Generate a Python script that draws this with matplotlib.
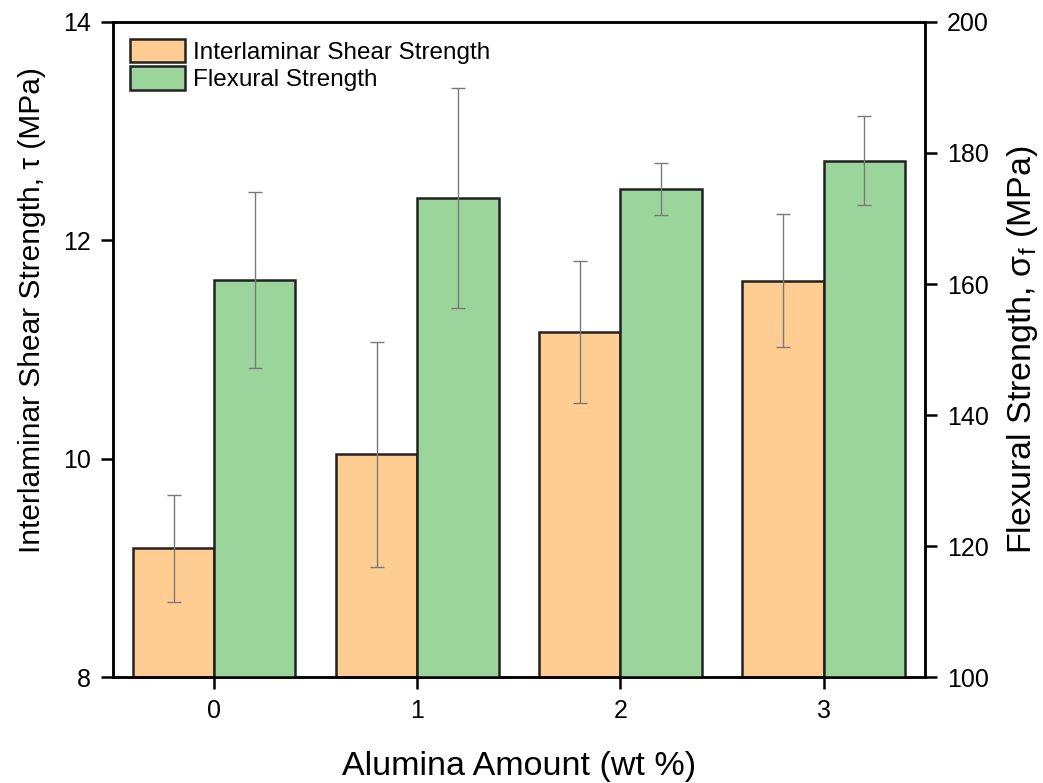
import numpy as np
import matplotlib.pyplot as plt

plt.rcParams['font.family'] = ['Liberation Sans', 'DejaVu Sans']
plt.rcParams['mathtext.fontset'] = 'custom'
plt.rcParams['mathtext.rm'] = 'Liberation Sans'
plt.rcParams['mathtext.it'] = 'Liberation Sans'

alumina = [0, 1, 2, 3]
ilss = [9.18, 10.04, 11.16, 11.63]
ilss_err = [0.49, 1.03, 0.65, 0.61]
flex = [160.6, 173.1, 174.5, 178.8]
flex_err = [13.4, 16.8, 3.9, 6.8]

x = np.array(alumina)
w = 0.4

fig = plt.figure(figsize=(10.43, 7.83), dpi=100)
ax1 = fig.add_axes([0.108, 0.135, 0.779, 0.837])
ax2 = ax1.twinx()

eb = dict(ecolor='#7a7a7a', elinewidth=1, capsize=4.7, capthick=1)
b1 = ax1.bar(x - w / 2, ilss, w, yerr=ilss_err, color='#FFCC91', edgecolor='#222222',
             linewidth=1.8, error_kw=eb, label='Interlaminar Shear Strength')
b2 = ax2.bar(x + w / 2, flex, w, yerr=flex_err, color='#9BD59B', edgecolor='#222222',
             linewidth=1.8, error_kw=eb, label='Flexural Strength')

ax1.set_xlim(-0.5, 3.5)
ax1.set_ylim(8, 14)
ax2.set_ylim(100, 200)
ax1.set_xticks(alumina)
ax1.set_yticks([8, 10, 12, 14])
ax2.set_yticks(np.arange(100, 201, 20))

for a in (ax1, ax2):
    a.tick_params(direction='out', length=8.5, width=1.8, labelsize=18, pad=7)
    for s in a.spines.values():
        s.set_linewidth(1.8)

ax1.set_xlabel('Alumina Amount (wt %)', fontsize=24.5, labelpad=20)
ax1.set_ylabel('Interlaminar Shear Strength, τ (MPa)', fontsize=21.5)
ax1.yaxis.set_label_coords(-0.082, 0.56)
ax2.set_ylabel(r'Flexural Strength, σ$_\mathrm{f}$ (MPa)', fontsize=24.5, labelpad=12)

ax1.legend([b1, b2], ['Interlaminar Shear Strength', 'Flexural Strength'],
           loc='upper left', frameon=False, fontsize=17.5, handlelength=2.26,
           handleheight=1.1, handletextpad=0.33, labelspacing=0.1,
           borderaxespad=0.4, borderpad=0.3)

fig.savefig('out.png', dpi=100)
